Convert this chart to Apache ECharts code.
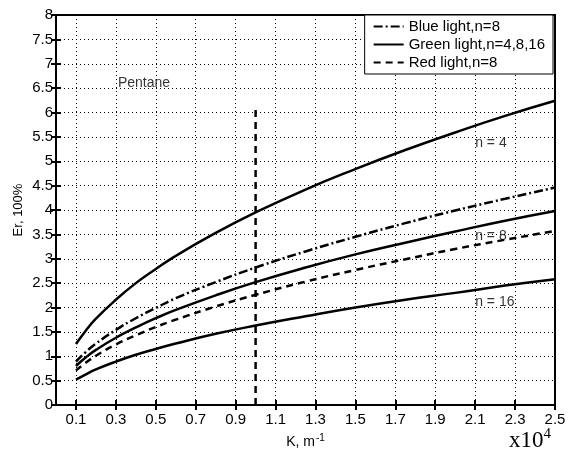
<!DOCTYPE html>
<html>
<head>
<meta charset="UTF-8">
<title>Er vs K</title>
<script src="https://cdn.jsdelivr.net/npm/echarts@6/dist/echarts.min.js"></script>
<style>
  html, body { margin: 0; padding: 0; background: #fff; }
  #container { width: 577px; height: 454px; }
</style>
</head>
<body>
<div id="container"></div>
<script type="text/javascript">
// K values (x10^4 m^-1)
var kValues = [0.1, 0.15, 0.2, 0.3, 0.4, 0.5, 0.6, 0.8, 1.0, 1.25, 1.5, 1.75, 2.0, 2.25, 2.5];
var greenN4 = [1.25, 1.53, 1.77, 2.16, 2.50, 2.79, 3.06, 3.53, 3.95, 4.42, 4.84, 5.23, 5.59, 5.93, 6.24];
var greenN8 = [0.80, 0.98, 1.13, 1.38, 1.59, 1.78, 1.95, 2.25, 2.52, 2.82, 3.09, 3.33, 3.56, 3.78, 3.98];
var greenN16 = [0.52, 0.63, 0.73, 0.89, 1.03, 1.15, 1.26, 1.46, 1.63, 1.82, 2.00, 2.16, 2.30, 2.45, 2.58];
var blueN8 = [0.89, 1.09, 1.26, 1.54, 1.78, 1.99, 2.19, 2.52, 2.82, 3.15, 3.45, 3.73, 3.99, 4.23, 4.46];
var redN8 = [0.71, 0.87, 1.01, 1.24, 1.43, 1.60, 1.75, 2.02, 2.26, 2.53, 2.77, 2.99, 3.20, 3.39, 3.57];
var pentaneLine = [[1.0, 0], [1.0, 6.15]];
var xTicks = [0.1, 0.3, 0.5, 0.7, 0.9, 1.1, 1.3, 1.5, 1.7, 1.9, 2.1, 2.3, 2.5];
var notes = [[0.31, 6.6, 'Pentane'], [2.1, 5.38, 'n = 4'], [2.1, 3.47, 'n = 8'], [2.1, 2.11, 'n = 16']];

function pairs(ys) {
    var out = [];
    for (var i = 0; i < kValues.length; i++) out.push([kValues[i], ys[i]]);
    return out;
}

var dom = document.getElementById("container");
var myChart = echarts.init(dom);
var font = 'Liberation Sans, Arial, sans-serif';
var dotted = { color: '#000', width: 1, type: [1, 3] };

function curve(name, ys, dash) {
    return {
        name: name,
        type: 'line',
        smooth: 0.5,
        showSymbol: false,
        symbol: 'none',
        lineStyle: { color: '#000', width: 2.5, type: dash },
        itemStyle: { color: '#000' },
        data: pairs(ys)
    };
}

var option = {
    animation: false,
    textStyle: { fontFamily: font },
    grid: { left: 56, right: 22, top: 15, bottom: 49, show: true, borderColor: '#000', borderWidth: 2 },
    legend: {
        data: ['Blue light,n=8', 'Green light,n=4,8,16', 'Red light,n=8'],
        orient: 'vertical',
        right: 24,
        top: 15,
        padding: [4, 8, 4, 8],
        itemGap: 3,
        itemWidth: 30,
        itemHeight: 14,
        itemStyle: { opacity: 0 },
        backgroundColor: '#fff',
        borderColor: '#000',
        borderWidth: 1,
        textStyle: { fontSize: 15, color: '#000', fontFamily: font }
    },
    xAxis: [{
        type: 'value',
        min: 0,
        max: 2.5,
        name: '{a|K, m}{b|-1}',
        nameLocation: 'middle',
        nameGap: 28,
        nameTextStyle: {
            rich: {
                a: { fontSize: 14, color: '#000', fontFamily: font },
                b: { fontSize: 10, color: '#000', fontFamily: font, verticalAlign: 'top', padding: [0, 0, 8, 1] }
            }
        },
        axisLine: { lineStyle: { color: '#000', width: 2 } },
        axisTick: { inside: true, length: 5, customValues: xTicks, lineStyle: { color: '#000', width: 2 } },
        axisLabel: { customValues: xTicks, fontSize: 15, color: '#000', margin: 7, formatter: function (v) { return v.toFixed(1); } },
        splitLine: { show: true, lineStyle: dotted }
    }, {
        type: 'value',
        position: 'top',
        min: 0,
        max: 2.5,
        axisLine: { lineStyle: { color: '#000', width: 2 } },
        axisTick: { inside: true, length: 5, customValues: xTicks, lineStyle: { color: '#000', width: 2 } },
        axisLabel: { show: false },
        splitLine: { show: false }
    }],
    yAxis: [{
        type: 'value',
        min: 0,
        max: 8,
        interval: 0.5,
        axisLine: { lineStyle: { color: '#000', width: 2 } },
        axisTick: { inside: true, length: 5, lineStyle: { color: '#000', width: 2 } },
        axisLabel: { fontSize: 15, color: '#000', margin: 3 },
        splitLine: { show: true, lineStyle: dotted }
    }, {
        type: 'value',
        position: 'right',
        min: 0,
        max: 8,
        interval: 0.5,
        axisLine: { lineStyle: { color: '#000', width: 2 } },
        axisTick: { inside: true, length: 5, lineStyle: { color: '#000', width: 2 } },
        axisLabel: { show: false },
        splitLine: { show: false }
    }],
    graphic: [{
        type: 'text',
        x: 18,
        y: 210,
        rotation: Math.PI / 2,
        style: {
            text: 'Er, 100%',
            font: '13px ' + font,
            fill: '#000',
            align: 'center',
            verticalAlign: 'middle'
        }
    }, {
        type: 'text',
        right: 26,
        bottom: 2,
        style: {
            text: '{a|x10}{b|4}',
            rich: {
                a: { fontSize: 23, fontFamily: 'Liberation Serif, Times New Roman, serif', fill: '#000' },
                b: { fontSize: 15, fontFamily: 'Liberation Serif, Times New Roman, serif', fill: '#000', verticalAlign: 'top', padding: [0, 0, 12, 0] }
            }
        }
    }],
    series: [
        curve('Blue light,n=8', blueN8, [9, 3, 2, 3]),
        curve('Green light,n=4,8,16', greenN4, 'solid'),
        curve('Green light,n=4,8,16', greenN8, 'solid'),
        curve('Green light,n=4,8,16', greenN16, 'solid'),
        curve('Red light,n=8', redN8, [7, 5]),
        {
            name: 'Pentane line',
            type: 'line',
            showSymbol: false,
            symbol: 'none',
            lineStyle: { color: '#000', width: 2.5, type: [7, 5] },
            data: pentaneLine
        },
        {
            name: 'notes',
            type: 'scatter',
            symbolSize: 0,
            silent: true,
            data: notes,
            label: {
                show: true,
                position: 'right',
                distance: 0,
                fontSize: 14,
                color: '#000',
                fontFamily: font,
                formatter: function (p) { return p.data[2]; }
            }
        }
    ]
};

if (option && typeof option === "object") {
    myChart.setOption(option, true);
}
</script>
</body>
</html>
